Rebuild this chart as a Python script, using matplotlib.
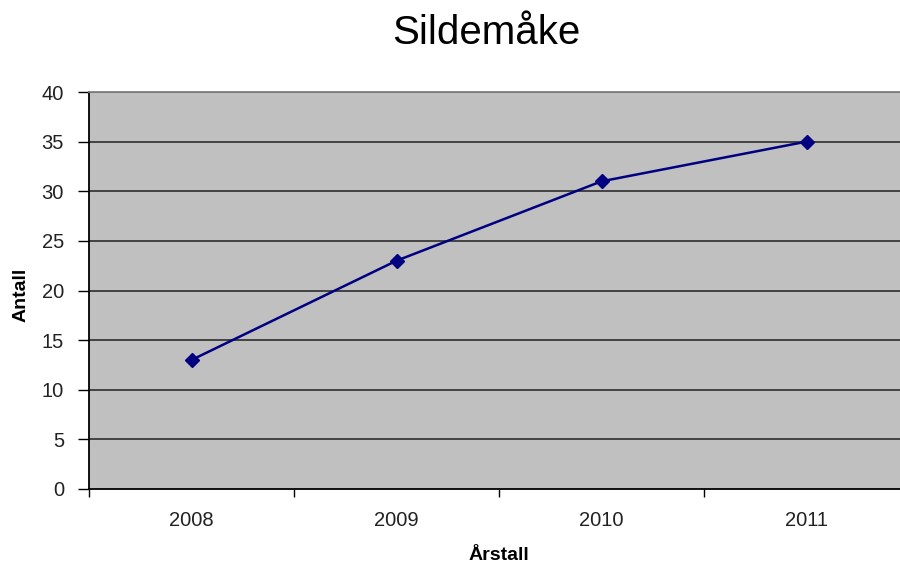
import matplotlib.pyplot as plt

plt.rcParams['font.family'] = ['Liberation Sans', 'DejaVu Sans']

years = ['2008', '2009', '2010', '2011']
antall = [13, 23, 31, 35]
y_ticks = [0, 5, 10, 15, 20, 25, 30, 35, 40]

fig = plt.figure(figsize=(9, 5.66), dpi=100)
ax = fig.add_axes([89 / 900, 1 - 489 / 566, 820 / 900, 397 / 566])
ax.set_facecolor('#c0c0c0')

x = list(range(len(years)))
ax.plot(x, antall, color='#000080', linewidth=1.8, marker='D', markersize=7,
        markerfacecolor='#000080', markeredgecolor='#000080', zorder=3)

ax.set_xlim(-0.5, len(years) - 0.5)
ax.set_ylim(0, 40)
ax.set_yticks(y_ticks)
ax.set_yticklabels([str(v) for v in y_ticks], fontsize=14.5, color='#222222')
for v in y_ticks[1:]:
    ax.axhline(v, color='#202020', linewidth=1.1, zorder=1)

# category ticks at band boundaries, labels centred
ax.set_xticks([i - 0.5 for i in range(len(years) + 1)])
ax.set_xticklabels([])
ax.set_xticks(x, minor=True)
ax.set_xticklabels(years, minor=True, fontsize=14.5, color='#222222')
ax.tick_params(axis='x', which='minor', length=0, pad=16)
ax.tick_params(axis='x', which='major', length=6, width=1, direction='out')
ax.tick_params(axis='y', length=8, width=1, direction='out', pad=10)

for s in ['left', 'bottom']:
    ax.spines[s].set_color('black')
    ax.spines[s].set_linewidth(1.3)
for s in ['top', 'right']:
    ax.spines[s].set_color('#808080')
    ax.spines[s].set_linewidth(1.3)

fig.text(21 / 900, 1 - 295 / 566, 'Antall', fontsize=14, fontweight='bold',
         rotation=90, ha='center', va='center')
fig.text(499 / 900, 1 - 556 / 566, 'Årstall', fontsize=14, fontweight='bold',
         ha='center', va='center')
fig.text(486 / 900, 1 - 33 / 566, 'Sildemåke', fontsize=29, ha='center', va='center')

fig.savefig('out.png', dpi=100)
